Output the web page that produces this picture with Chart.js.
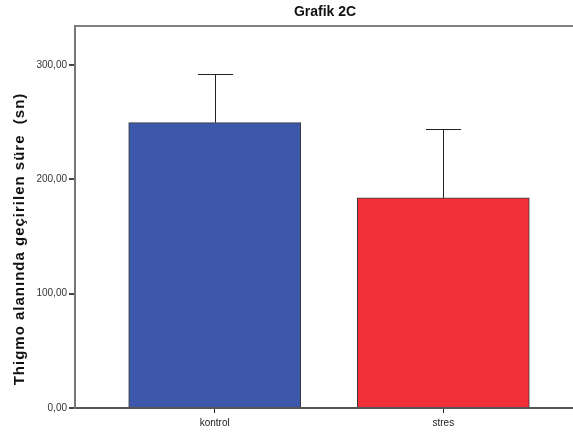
<!DOCTYPE html>
<html>
<head>
<meta charset="utf-8">
<script src="https://cdn.jsdelivr.net/npm/chart.js@4"></script>
<style>
  html, body { margin: 0; padding: 0; background: #fff; overflow: hidden; }
  #wrap { position: absolute; left: 0; top: 0; }
</style>
</head>
<body>
<div id="wrap"><canvas id="c" width="650" height="435"></canvas></div>
<script>
// Group means and their upper error (mean + error) in seconds
const categories = ['kontrol', 'stres'];
const means = [249.5, 183.7];
const errorTops = [292.3, 244.0];
const barColors = ['#3d58ab', '#f2303a'];
const yTicks = [0, 100, 200, 300];
const yMax = 334;
const chartTitle = 'Grafik 2C';
const yTitle = 'Thigmo alanında geçirilen süre  (sn)';

const fmt = v => v.toFixed(2).replace('.', ',');

// Upper error whiskers with a cap, drawn from the scales
const errorBars = {
  id: 'errorBars',
  afterDatasetsDraw(chart) {
    const { ctx, scales: { x, y } } = chart;
    ctx.save();
    ctx.strokeStyle = '#222';
    ctx.lineWidth = 1;
    means.forEach((m, i) => {
      const px = Math.round(x.getPixelForValue(i)) + 0.5;
      const yb = y.getPixelForValue(m);
      const yt = Math.round(y.getPixelForValue(errorTops[i])) + 0.5;
      ctx.beginPath();
      ctx.moveTo(px, yb);
      ctx.lineTo(px, yt);
      ctx.moveTo(px - 17.5, yt);
      ctx.lineTo(px + 17.5, yt);
      ctx.stroke();
    });
    ctx.restore();
  }
};

// Frame top edge, chart title and the value axis title
const decorations = {
  id: 'decorations',
  afterDraw(chart) {
    const { ctx, chartArea: a } = chart;
    ctx.save();
    ctx.strokeStyle = '#808080';
    ctx.lineWidth = 2;
    ctx.beginPath();
    ctx.moveTo(a.left, a.top);
    ctx.lineTo(a.right, a.top);
    ctx.stroke();

    ctx.fillStyle = '#111';
    ctx.textAlign = 'center';
    ctx.textBaseline = 'middle';
    ctx.font = 'bold 14px "Liberation Sans"';
    ctx.fillText(chartTitle, 325, 12);

    ctx.translate(20, 239);
    ctx.rotate(-Math.PI / 2);
    ctx.font = 'bold 15px "Liberation Sans"';
    ctx.letterSpacing = '1px';
    ctx.fillText(yTitle, 0, 0);
    ctx.restore();
  }
};

new Chart(document.getElementById('c'), {
  type: 'bar',
  data: {
    datasets: [{
      data: means.map((m, i) => ({ x: i, y: m })),
      backgroundColor: barColors,
      borderColor: '#3a3a3a',
      borderWidth: 1,
      borderSkipped: 'bottom',
      barThickness: 172
    }]
  },
  options: {
    responsive: false,
    animation: false,
    devicePixelRatio: 1,
    layout: { padding: { left: 0, right: 67, top: 26, bottom: 0 } },
    plugins: {
      legend: { display: false },
      tooltip: { enabled: false },
      title: { display: false }
    },
    scales: {
      x: {
        type: 'linear',
        offset: false,
        min: -0.611,
        max: 1.611,
        afterBuildTicks: s => { s.ticks = categories.map((_, i) => ({ value: i })); },
        afterFit: s => { s.height = 27; },
        ticks: {
          callback: v => categories[v],
          color: '#222',
          font: { family: 'Liberation Sans', size: 10 },
          padding: 4,
          maxRotation: 0
        },
        grid: { display: true, offset: false, drawOnChartArea: false, drawTicks: true, tickLength: 5, color: '#222', lineWidth: 1 },
        border: { display: true, color: '#555', width: 2 }
      },
      y: {
        min: 0,
        max: yMax,
        afterBuildTicks: s => { s.ticks = yTicks.map(v => ({ value: v })); },
        afterFit: s => { s.width = 75; },
        ticks: {
          callback: v => fmt(v),
          color: '#333',
          font: { family: 'Liberation Sans', size: 10 },
          padding: 2
        },
        grid: { display: true, drawOnChartArea: false, drawTicks: true, tickLength: 6, color: '#444', lineWidth: 2 },
        border: { display: true, color: '#777', width: 2 }
      }
    }
  },
  plugins: [errorBars, decorations]
});
</script>
</body>
</html>
